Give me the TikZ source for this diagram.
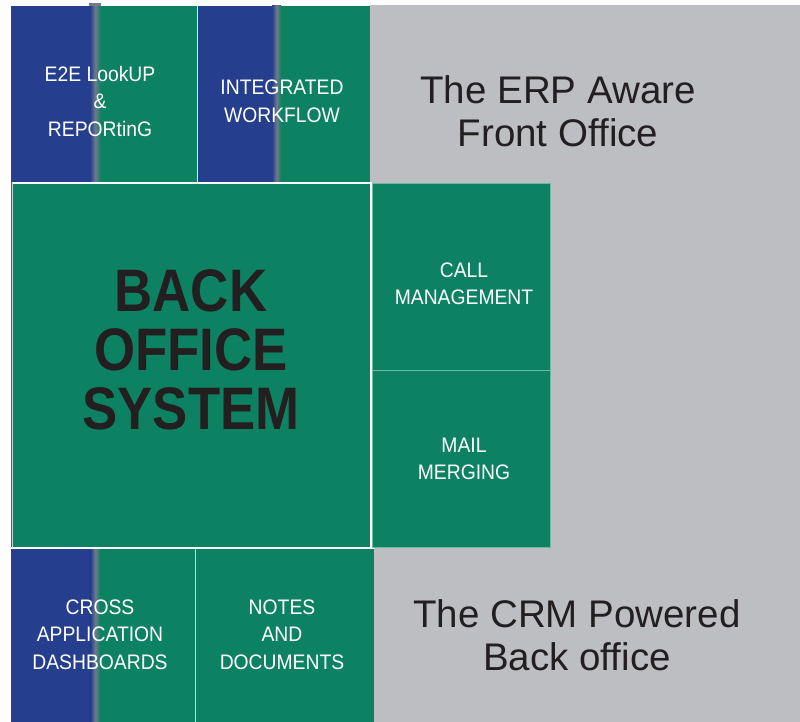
\documentclass[tikz,border=0pt]{standalone}
\usepackage{fontspec}
\setmainfont{Liberation Sans}
\newfontfamily\tilefont[FakeStretch=0.92]{Liberation Sans}
\newfontfamily\bigfont[FakeStretch=0.88]{Liberation Sans}
\definecolor{tgreen}{RGB}{13,130,99}
\definecolor{tblue}{RGB}{38,62,142}
\definecolor{tmid}{RGB}{112,122,138}
\definecolor{tgray}{RGB}{189,190,194}
\definecolor{tdark}{RGB}{35,31,32}
\definecolor{tedge}{RGB}{110,185,160}
\tikzset{
  tiletext/.style={text=white, align=center, inner sep=0pt, font=\tilefont\fontsize{21}{27.5}\selectfont},
  bigtext/.style={text=tdark, align=center, inner sep=0pt, font=\bigfont\bfseries\fontsize{60}{59}\selectfont},
  sidetext/.style={text=tdark, align=center, inner sep=0pt, font=\fontsize{38.5}{43}\selectfont},
  blend/.style={left color=tblue, right color=tgreen, middle color=tmid, shading angle=90},
  sep/.style={draw=white, line width=1.2pt},
  edge/.style={draw=tedge, line width=1pt}
}
\begin{document}
\begin{tikzpicture}[x=1pt,y=-1pt]
\useasboundingbox (0,0) rectangle (800,722);
\fill[white] (0,0) rectangle (800,722);
\fill[tgray] (370,5) rectangle (800,722);
% top tiles
\fill[tgreen] (11,6) rectangle (370,182);
\fill[tblue] (11,6) rectangle (90.5,182);
\shade[left color=tblue, right color=tgreen, middle color=tmid] (90,6) rectangle (100.5,182);
\fill[tmid] (89,3.5) rectangle (101,6);
\fill[tblue] (198,6) rectangle (272.5,182);
\shade[left color=tblue, right color=tgreen, middle color=tmid] (272,6) rectangle (281,182);
\draw[draw=white!85!tblue, line width=1pt] (197.5,6) -- (197.5,182);
% back office
\fill[tgreen] (11,182.5) rectangle (371.5,548);
\draw[sep] (12,183) -- (371,183) -- (371,547.5) -- (11,547.5);
\draw[draw=white!70!tgreen, line width=0.8pt] (12,183) -- (12,547.5);
% call / mail
\fill[tgreen] (372,184) rectangle (550.5,547);
\draw[edge] (372,184) rectangle (550.5,547);
\draw[edge] (372,370) -- (550.5,370);
% bottom tiles
\fill[tgreen] (11,549) rectangle (373.5,722);
\fill[tblue] (11,549) rectangle (91,722);
\shade[left color=tblue, right color=tgreen, middle color=tmid] (90.5,549) rectangle (100,722);
\draw[draw=white!70!tgreen, line width=1pt] (195.5,549) -- (195.5,722);
\draw[sep] (11,548.5) -- (373.5,548.5);
% texts
\node[tiletext] (e2e) at (100,101) {E2E LookUP\\\&\\REPORtinG};
\node[tiletext] (iwf) at (282,101.5) {INTEGRATED\\WORKFLOW};
\node[bigtext] (bos) at (191,350) {BACK\\OFFICE\\SYSTEM};
\node[tiletext] (call) at (464,284) {CALL\\MANAGEMENT};
\node[tiletext] (mail) at (464,459) {MAIL\\MERGING};
\node[tiletext] (cross) at (100,634.5) {CROSS\\APPLICATION\\DASHBOARDS};
\node[tiletext] (notes) at (282,634.5) {NOTES\\AND\\DOCUMENTS};
\node[sidetext] (erp) at (558,111) {The ERP Aware\\Front Office};
\node[sidetext] (crm) at (577,635) {The CRM Powered\\Back office};
\end{tikzpicture}
\end{document}
